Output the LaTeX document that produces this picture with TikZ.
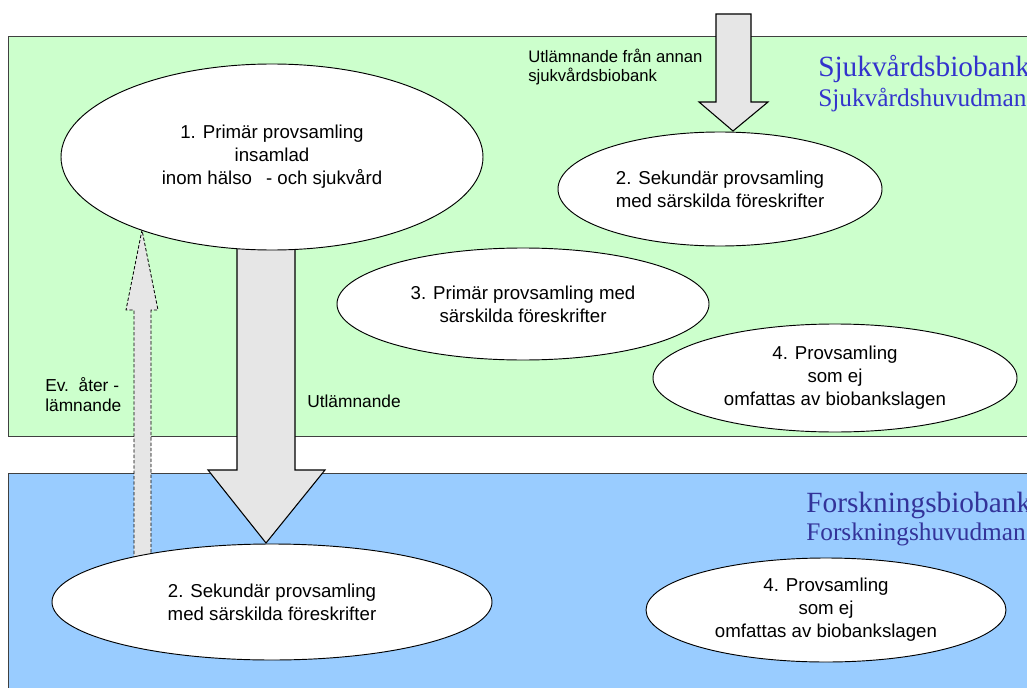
\documentclass[tikz,border=0pt]{standalone}
\usepackage{fontspec}
\setmainfont{Liberation Sans}
\newfontfamily\timesfont{Liberation Serif}
\usetikzlibrary{shapes.geometric}
\definecolor{grn}{HTML}{CCFFCC}
\definecolor{blu}{HTML}{99CCFF}
\definecolor{arrowgray}{HTML}{E6E6E6}
\definecolor{sjblue}{HTML}{3333CC}
\definecolor{foblue}{HTML}{333399}
\pgfdeclarelayer{bg}
\pgfdeclarelayer{mid}
\pgfsetlayers{bg,mid,main}
\begin{document}
\begin{tikzpicture}[x=0.75pt,y=-0.75pt,
  zone/.style={draw=black!75, line width=0.75pt},
  coll/.style={ellipse, draw=black, fill=white, line width=0.7pt, inner sep=0pt, align=center, font=\fontsize{14}{17.25}\selectfont},
  blockarrow/.style={draw=black, fill=arrowgray, line width=0.8pt, line join=miter},
  dasharrow/.style={draw=black, fill=arrowgray, line width=0.6pt, dash pattern=on 2.5pt off 1.5pt},
  lbl/.style={inner sep=0pt, align=left, font=\fontsize{13}{15}\selectfont},
  bigtitle/.style={inner sep=0pt, anchor=base west, font=\timesfont\fontsize{22}{26}\selectfont},
  subtitle/.style={inner sep=0pt, anchor=base west, font=\timesfont\fontsize{19}{23}\selectfont}]
\useasboundingbox (0,0) rectangle (1027,688);
\clip (0,0) rectangle (1027,688);

% collections
\node[coll, minimum width=316.5pt, minimum height=139.5pt] (e1) at (272,157)
  {1. Primär provsamling\\insamlad\\inom hälso\hspace{0.75em}- och sjukvård};
\node[coll, minimum width=243pt, minimum height=85.5pt] (e2t) at (720,189)
  {2. Sekundär provsamling\\med särskilda föreskrifter};
\node[coll, minimum width=279pt, minimum height=84pt] (e3) at (523,304)
  {3. Primär provsamling med\\särskilda föreskrifter};
\node[coll, minimum width=273pt, minimum height=81pt] (e4t) at (835,378)
  {4. Provsamling\\som ej\\omfattas av biobankslagen};
\node[coll, minimum width=330pt, minimum height=87pt] (e2b) at (272,602)
  {2. Sekundär provsamling\\med särskilda föreskrifter};
\node[coll, minimum width=270pt, minimum height=78pt] (e4b) at (826,610)
  {4. Provsamling\\som ej\\omfattas av biobankslagen};

% labels
\node[bigtitle, text=sjblue] (t1) at (818,77) {Sjukvårdsbiobank};
\node[subtitle, text=sjblue] (t2) at (818,107) {Sjukvårdshuvudman};
\node[bigtitle, text=foblue] (t3) at (806,512) {Forskningsbiobank};
\node[subtitle, text=foblue] (t4) at (806,540) {Forskningshuvudman};
\node[lbl, anchor=west, font=\fontsize{12.5}{14.3}\selectfont] (l1) at (528,67)
  {Utlämnande från annan\\sjukvårdsbiobank};
\node[lbl, anchor=west] (l2) at (45,395) {Ev.\ \ åter -\\lämnande};
\node[lbl, anchor=west] (l3) at (307,401) {Utlämnande};

% arrows
\coordinate (tipA) at (266,543);
\coordinate (tipB) at (142,230);
\coordinate (tipC) at (733,131);
\begin{pgfonlayer}{mid}
  \draw[blockarrow] (237,240) -- (237,470) -- (208,470) -- (tipA) -- (325,470) -- (295,470) -- (295,240) -- cycle;
  \draw[dasharrow] (134,570) -- (134,310) -- (126,310) -- (tipB) -- (158,310) -- (151,310) -- (151,570) -- cycle;
  \draw[blockarrow] (716,14) -- (716,102) -- (699,102) -- (tipC) -- (768,102) -- (751,102) -- (751,14) -- cycle;
\end{pgfonlayer}

% zones
\begin{pgfonlayer}{bg}
  \fill[white] (0,0) rectangle (1027,688);
  \draw[zone, fill=grn] (8,37) rectangle (1040,436);
  \draw[zone, fill=blu] (8,473) rectangle (1040,700);
\end{pgfonlayer}
\end{tikzpicture}
\end{document}
